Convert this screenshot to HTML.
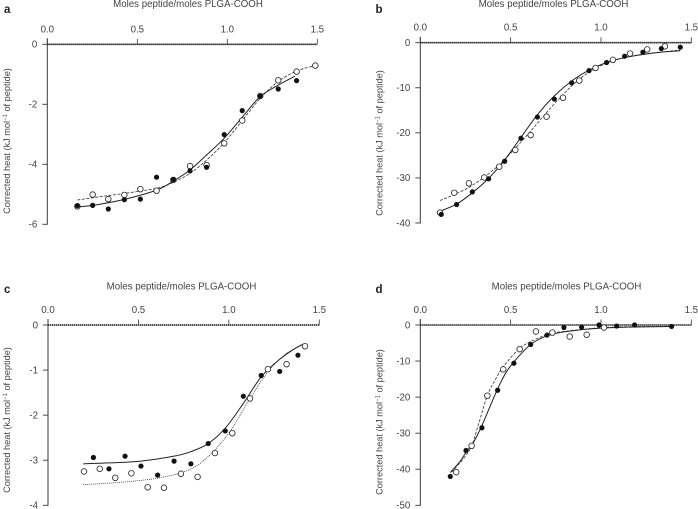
<!DOCTYPE html>
<html>
<head>
<meta charset="utf-8">
<style>
html,body{margin:0;padding:0;background:#fff;}
svg{display:block;}
text{font-family:"Liberation Sans",Arial,sans-serif;fill:#444;}
</style>
</head>
<body>
<svg id="figure" xmlns="http://www.w3.org/2000/svg" width="698" height="509" viewBox="0 0 698 509"></svg>
<script>
var xTickLabels = ['0.0', '0.5', '1.0', '1.5'];
var xTickValues = [0, 0.5, 1, 1.5];

var aYTicks = [0, -2, -4, -6];
var aFilledX = [0.167, 0.252, 0.339, 0.428, 0.517, 0.607, 0.7, 0.793, 0.885, 0.983, 1.083, 1.183, 1.283, 1.385];
var aFilledY = [-5.38, -5.37, -5.49, -5.18, -5.16, -4.43, -4.51, -4.22, -4.10, -3.01, -2.21, -1.73, -1.49, -1.21];
var aOpenX = [0.167, 0.252, 0.339, 0.428, 0.517, 0.607, 0.7, 0.793, 0.885, 0.983, 1.083, 1.183, 1.283, 1.385, 1.489];
var aOpenY = [-5.40, -5.01, -5.16, -5.02, -4.83, -4.88, -4.52, -4.06, -4.03, -3.30, -2.54, -1.72, -1.20, -0.91, -0.71];
var aFitFilledX = [0.167, 0.293, 0.428, 0.607, 0.7, 0.793, 0.885, 0.983, 1.083, 1.183, 1.283, 1.376];
var aFitFilledY = [-5.43, -5.33, -5.17, -4.86, -4.56, -4.19, -3.69, -3.13, -2.43, -1.74, -1.36, -1.06];
var aFitOpenX = [0.167, 0.293, 0.428, 0.607, 0.7, 0.793, 0.885, 0.983, 1.083, 1.183, 1.283, 1.385, 1.489];
var aFitOpenY = [-5.19, -5.08, -4.97, -4.8, -4.6, -4.3, -3.86, -3.28, -2.54, -1.8, -1.24, -0.89, -0.71];

var bYTicks = [0, -10, -20, -30, -40];
var bFilledX = [0.116, 0.201, 0.288, 0.378, 0.467, 0.557, 0.648, 0.742, 0.838, 0.934, 1.031, 1.131, 1.232, 1.334, 1.439];
var bFilledY = [-38.1, -35.9, -33.1, -30.2, -26.3, -21.2, -16.5, -12.5, -8.9, -6.2, -4.4, -3.0, -2.1, -1.3, -1.0];
var bOpenX = [0.109, 0.188, 0.269, 0.354, 0.437, 0.526, 0.611, 0.699, 0.790, 0.880, 0.970, 1.066, 1.161, 1.256, 1.354];
var bOpenY = [-37.7, -33.3, -31.2, -29.9, -27.5, -23.8, -20.5, -16.4, -12.2, -8.4, -5.6, -3.8, -2.4, -1.5, -0.8];
var bFitFilledX = [0.109, 0.201, 0.288, 0.378, 0.467, 0.557, 0.648, 0.742, 0.838, 0.934, 1.031, 1.131, 1.232, 1.334, 1.439];
var bFitFilledY = [-37.4, -35.8, -33.3, -30.1, -26.0, -21.0, -16.0, -11.8, -8.5, -6.1, -4.4, -3.3, -2.6, -2.1, -1.8];
var bFitOpenX = [0.109, 0.188, 0.269, 0.354, 0.437, 0.526, 0.611, 0.699, 0.790, 0.880, 0.970, 1.066, 1.161, 1.256, 1.354, 1.439];
var bFitOpenY = [-35.0, -33.7, -32.1, -29.8, -27.1, -23.4, -19.6, -15.5, -11.5, -8.1, -5.7, -4.0, -3.1, -2.5, -2.0, -1.6];

var cYTicks = [0, -1, -2, -3, -4];
var cFilledX = [0.251, 0.337, 0.426, 0.514, 0.606, 0.697, 0.790, 0.886, 0.980, 1.080, 1.179, 1.281, 1.382];
var cFilledY = [-2.94, -3.19, -2.91, -3.13, -3.33, -3.02, -3.08, -2.63, -2.35, -1.58, -1.12, -1.03, -0.67];
var cOpenX = [0.199, 0.286, 0.372, 0.461, 0.551, 0.641, 0.735, 0.827, 0.923, 1.019, 1.117, 1.216, 1.319, 1.421];
var cOpenY = [-3.25, -3.19, -3.39, -3.29, -3.60, -3.61, -3.30, -3.37, -2.84, -2.40, -1.63, -0.98, -0.87, -0.47];
var cFitFilledX = [0.195, 0.337, 0.514, 0.697, 0.790, 0.886, 0.980, 1.080, 1.179, 1.281, 1.382, 1.421];
var cFitFilledY = [-3.08, -3.06, -3.02, -2.91, -2.81, -2.63, -2.29, -1.74, -1.15, -0.76, -0.48, -0.42];
var cFitOpenX = [0.195, 0.372, 0.551, 0.641, 0.735, 0.827, 0.923, 1.019, 1.117, 1.216, 1.319, 1.421];
var cFitOpenY = [-3.54, -3.50, -3.43, -3.37, -3.28, -3.11, -2.77, -2.29, -1.63, -1.04, -0.63, -0.42];

var dYTicks = [0, -10, -20, -30, -40, -50];
var dFilledX = [0.166, 0.253, 0.341, 0.428, 0.518, 0.611, 0.701, 0.795, 0.893, 0.989, 1.087, 1.186, 1.391];
var dFilledY = [-42.0, -34.8, -28.5, -18.1, -10.6, -5.4, -2.8, -0.7, -0.6, 0, -0.3, 0, -0.4];
var dOpenX = [0.199, 0.284, 0.371, 0.459, 0.550, 0.640, 0.731, 0.827, 0.921, 1.017];
var dOpenY = [-40.8, -33.5, -19.6, -12.3, -6.7, -1.8, -2.1, -3.2, -2.7, -0.7];
var dFitFilledX = [0.166, 0.219, 0.253, 0.297, 0.341, 0.386, 0.428, 0.472, 0.518, 0.611, 0.701, 0.795, 0.893, 0.989, 1.087, 1.186, 1.391];
var dFitFilledY = [-40.9, -37.9, -35.3, -32.3, -27.9, -22.6, -17.7, -13.4, -10.2, -5.4, -3.0, -1.9, -1.3, -0.9, -0.7, -0.55, -0.4];
var dFitOpenX = [0.173, 0.24, 0.284, 0.321, 0.371, 0.417, 0.459, 0.550, 0.640, 0.731, 0.827, 0.921, 1.017, 1.186, 1.391];
var dFitOpenY = [-40.8, -37, -33.5, -27.7, -19.6, -15, -11.6, -6.5, -3.9, -2.3, -1.6, -1.1, -0.7, -0.45, -0.4];

var svgNS = 'http://www.w3.org/2000/svg';
var root = document.getElementById('figure');

function make(parent, tag, attrs, name) {
  var el = document.createElementNS(svgNS, tag);
  for (var k in attrs) { el.setAttribute(k, attrs[k]); }
  
  
  parent.appendChild(el);
  return el;
}

function smoothPath(xs, ys, sx, sy) {
  var p = xs.map(function (x, i) { return [sx(x), sy(ys[i])]; });
  var d = 'M' + p[0][0].toFixed(2) + ' ' + p[0][1].toFixed(2);
  for (var i = 0; i < p.length - 1; i++) {
    var p0 = p[Math.max(i - 1, 0)], p1 = p[i], p2 = p[i + 1], p3 = p[Math.min(i + 2, p.length - 1)];
    d += 'C' + (p1[0] + (p2[0] - p0[0]) / 6).toFixed(2) + ' ' + (p1[1] + (p2[1] - p0[1]) / 6).toFixed(2) +
      ' ' + (p2[0] - (p3[0] - p1[0]) / 6).toFixed(2) + ' ' + (p2[1] - (p3[1] - p1[1]) / 6).toFixed(2) +
      ' ' + p2[0].toFixed(2) + ' ' + p2[1].toFixed(2);
  }
  return d;
}

function drawPanel(cfg) {
  var g = make(root, 'g', {}, 'panel-' + cfg.id);
  var sx = function (v) { return cfg.x0 + (v / 1.5) * (cfg.x1 - cfg.x0); };
  var sy = function (v) { return cfg.y0 + (v / cfg.yMin) * (cfg.y1 - cfg.y0); };
  var ink = '#3a3a3a';

  var letter = make(g, 'text', { x: cfg.letterX, y: cfg.letterY, 'font-size': 11.5, 'font-weight': 'bold', style: 'fill:#222' }, 'panel-letter');
  letter.textContent = cfg.id;

  var title = make(g, 'text', { x: cfg.titleX, y: cfg.titleY, 'font-size': 9.7, 'text-anchor': 'middle' }, 'x-axis-title');
  title.textContent = 'Moles peptide/moles PLGA-COOH';

  var yt = make(g, 'text', { 'font-size': 9.2, 'text-anchor': 'middle', transform: 'translate(' + cfg.yTitleX + ' ' + cfg.yTitleY + ') rotate(-90)' }, 'y-axis-title');
  var t1 = make(yt, 'tspan', {}, 'y-title-text');
  t1.textContent = 'Corrected heat (kJ mol';
  var t2 = make(yt, 'tspan', { dy: -3, 'font-size': 6 }, 'y-title-superscript');
  t2.textContent = '\u22121';
  var t3 = make(yt, 'tspan', { dy: 3 }, 'y-title-unit');
  t3.textContent = ' of peptide)';

  make(g, 'line', { x1: cfg.x0, x2: cfg.x0, y1: cfg.y0 - 6, y2: cfg.y1 + 0.5, stroke: ink, 'stroke-width': 1 }, 'y-axis');
  make(g, 'line', { x1: cfg.x0, x2: cfg.x1, y1: cfg.y0, y2: cfg.y0, stroke: ink, 'stroke-width': 0.8 }, 'x-axis');
  make(g, 'line', { x1: cfg.x0, x2: cfg.x1, y1: cfg.y0, y2: cfg.y0, stroke: '#333', 'stroke-width': 1.8, 'stroke-dasharray': '1 1' }, 'zero-dotted-line');

  xTickValues.forEach(function (v, i) {
    make(g, 'line', { x1: sx(v), x2: sx(v), y1: cfg.y0 - 5.5, y2: cfg.y0, stroke: ink, 'stroke-width': 0.8 }, 'x-tick');
    var lab = make(g, 'text', { x: sx(v), y: cfg.y0 - 12, 'font-size': 9.7, 'text-anchor': 'middle' }, 'x-tick-label');
    lab.textContent = xTickLabels[i];
  });

  cfg.yTicks.forEach(function (v) {
    make(g, 'line', { x1: cfg.x0 - 5, x2: cfg.x0, y1: sy(v), y2: sy(v), stroke: ink, 'stroke-width': 0.9 }, 'y-tick');
    var lab = make(g, 'text', { x: cfg.x0 - 10, y: sy(v) + 3.3, 'font-size': 9.7, 'text-anchor': 'end' }, 'y-tick-label');
    lab.textContent = String(v);
  });

  make(g, 'path', { d: smoothPath(cfg.fitOpenX, cfg.fitOpenY, sx, sy), fill: 'none', stroke: '#333', 'stroke-width': 0.8, 'stroke-dasharray': cfg.openDash }, 'fit-curve-open');
  make(g, 'path', { d: smoothPath(cfg.fitFilledX, cfg.fitFilledY, sx, sy), fill: 'none', stroke: '#222', 'stroke-width': 1 }, 'fit-curve-filled');

  cfg.openX.forEach(function (x, i) {
    make(g, 'circle', { cx: sx(x), cy: sy(cfg.openY[i]), r: 2.8, fill: '#fff', stroke: '#222', 'stroke-width': 0.8 }, 'open-point');
  });
  cfg.filledX.forEach(function (x, i) {
    make(g, 'circle', { cx: sx(x), cy: sy(cfg.filledY[i]), r: 2.6, fill: '#111' }, 'filled-point');
  });
}

drawPanel({ id: 'a', x0: 47.3, x1: 317.3, y0: 44.3, y1: 224.3, yMin: -6, yTicks: aYTicks,
  letterX: 4, letterY: 13, titleX: 188, titleY: 7, yTitleX: 10, yTitleY: 141, openDash: '3 1.5',
  filledX: aFilledX, filledY: aFilledY, openX: aOpenX, openY: aOpenY,
  fitFilledX: aFitFilledX, fitFilledY: aFitFilledY, fitOpenX: aFitOpenX, fitOpenY: aFitOpenY });
drawPanel({ id: 'b', x0: 420.3, x1: 691.3, y0: 42.7, y1: 223, yMin: -40, yTicks: bYTicks,
  letterX: 375.5, letterY: 13, titleX: 553.5, titleY: 7, yTitleX: 382.5, yTitleY: 143, openDash: '3 1.5',
  filledX: bFilledX, filledY: bFilledY, openX: bOpenX, openY: bOpenY,
  fitFilledX: bFitFilledX, fitFilledY: bFitFilledY, fitOpenX: bFitOpenX, fitOpenY: bFitOpenY });
drawPanel({ id: 'c', x0: 48, x1: 319.3, y0: 325, y1: 505.3, yMin: -4, yTicks: cYTicks,
  letterX: 4, letterY: 293, titleX: 181.5, titleY: 289.5, yTitleX: 10, yTitleY: 420, openDash: '1 1',
  filledX: cFilledX, filledY: cFilledY, openX: cOpenX, openY: cOpenY,
  fitFilledX: cFitFilledX, fitFilledY: cFitFilledY, fitOpenX: cFitOpenX, fitOpenY: cFitOpenY });
drawPanel({ id: 'd', x0: 420.3, x1: 691.3, y0: 325, y1: 505.3, yMin: -50, yTicks: dYTicks,
  letterX: 375.5, letterY: 293, titleX: 566.5, titleY: 289.5, yTitleX: 382.5, yTitleY: 422, openDash: '3 1.5',
  filledX: dFilledX, filledY: dFilledY, openX: dOpenX, openY: dOpenY,
  fitFilledX: dFitFilledX, fitFilledY: dFitFilledY, fitOpenX: dFitOpenX, fitOpenY: dFitOpenY });
</script>
</body>
</html>
